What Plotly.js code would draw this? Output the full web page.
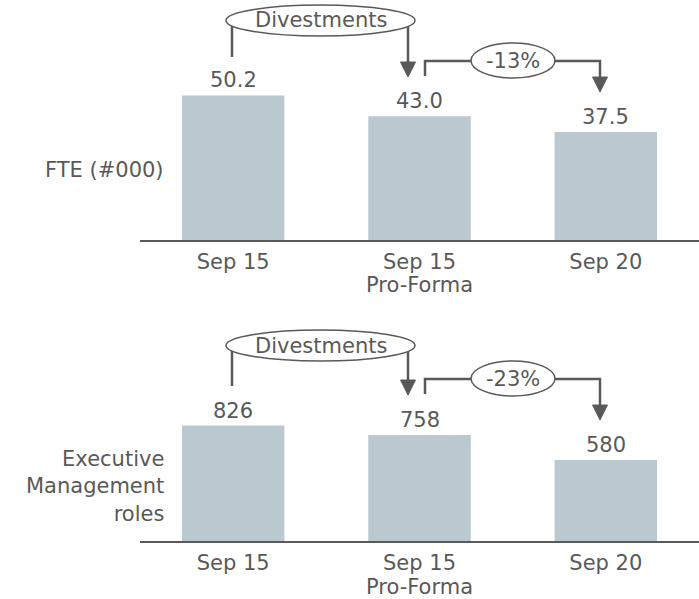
<!DOCTYPE html>
<html>
<head>
<meta charset="utf-8">
<script src="https://cdn.plot.ly/plotly-3.0.1.min.js"></script>
<style>html,body{margin:0;padding:0;background:#fff;}#chart{width:699px;height:599px;}</style>
</head>
<body>
<div id="chart"></div>
<script>
// ---- data ----
const categories = ['Sep 15', 'Sep 15 Pro-Forma', 'Sep 20'];
const tickLabels = ['Sep 15', 'Sep 15', 'Sep 20'];
const tickSubLabels = ['', 'Pro-Forma', ''];
const fteValues = [50.2, 43.0, 37.5];
const fteLabels = ['50.2', '43.0', '37.5'];
const execValues = [826, 758, 580];
const execLabels = ['826', '758', '580'];
const fteTitle = 'FTE (#000)';
const execTitle = 'Executive<br>Management<br>roles';
const divestLabel = 'Divestments';
const fteChange = '-13%';
const execChange = '-23%';

// ---- style ----
const W = 699, H = 599;
const TXT = '#595959';
const BAR = '#BAC9D0';
const FONT = 'DejaVu Sans, Verdana, sans-serif';
const FS = 21;

const px = x => x / W;
const py = y => 1 - y / H;

const traces = [
  {type: 'bar', x: categories, y: fteValues, xaxis: 'x', yaxis: 'y',
   marker: {color: BAR}, hoverinfo: 'skip'},
  {type: 'bar', x: categories, y: execValues, xaxis: 'x2', yaxis: 'y2',
   marker: {color: BAR}, hoverinfo: 'skip'}
];

const xBase = {
  type: 'category', range: [-0.5, 2.5], domain: [140 / W, 1],
  showline: true, linecolor: TXT, linewidth: 2, showgrid: false, zeroline: false,
  ticks: '', tickfont: {family: FONT, size: FS, color: TXT}, fixedrange: true,
  tickmode: 'array', tickvals: categories, ticktext: tickLabels,
  ticklabelstandoff: 2
};
const yBase = {showline: false, showgrid: false, zeroline: false, showticklabels: false, fixedrange: true};

const annotations = [];
const shapes = [];

function valueLabels(vals, labels, xr, yr) {
  vals.forEach((v, i) => {
    annotations.push({x: categories[i], y: v, xref: xr, yref: yr, text: labels[i],
      showarrow: false, yanchor: 'bottom', yshift: 1,
      font: {family: FONT, size: FS, color: TXT}});
  });
}
valueLabels(fteValues, fteLabels, 'x', 'y');
valueLabels(execValues, execLabels, 'x2', 'y2');

function subLabels(xr, yPix) {
  tickSubLabels.forEach((t, i) => {
    if (!t) return;
    annotations.push({x: categories[i], xref: xr, yref: 'paper', y: py(yPix), text: t,
      showarrow: false, yanchor: 'middle', font: {family: FONT, size: FS, color: TXT}});
  });
}
subLabels('x', 285);
subLabels('x2', 587);

annotations.push({xref: 'paper', yref: 'paper', x: px(166), y: py(170), xanchor: 'right', yanchor: 'middle',
  text: fteTitle, showarrow: false, align: 'right', font: {family: FONT, size: FS, color: TXT}});
annotations.push({xref: 'paper', yref: 'paper', x: px(166), y: py(486), xanchor: 'right', yanchor: 'middle',
  text: execTitle, showarrow: false, align: 'right', font: {family: FONT, size: FS, color: TXT}});

function line(pts, width) {
  const d = pts.map((p, i) => (i ? 'L' : 'M') + px(p[0]) + ',' + py(p[1])).join(' ');
  shapes.push({type: 'path', xref: 'paper', yref: 'paper', path: d,
    line: {color: TXT, width: width || 2.5}});
}
function arrowHead(x, y0, y1) {
  const d = 'M' + px(x - 7.5) + ',' + py(y0) + ' L' + px(x + 7.5) + ',' + py(y0) +
            ' L' + px(x) + ',' + py(y1) + ' Z';
  shapes.push({type: 'path', xref: 'paper', yref: 'paper', path: d,
    fillcolor: TXT, line: {color: TXT, width: 1}});
}
function ellipse(x0, y0, x1, y1, text) {
  shapes.push({type: 'circle', xref: 'paper', yref: 'paper', x0: px(x0), x1: px(x1), y0: py(y1), y1: py(y0),
    fillcolor: '#fff', line: {color: TXT, width: 1.5}});
  annotations.push({xref: 'paper', yref: 'paper', x: px((x0 + x1) / 2), y: py((y0 + y1) / 2),
    text: text, showarrow: false, xanchor: 'center', yanchor: 'middle',
    font: {family: FONT, size: FS, color: TXT}});
}

function panel(o) {
  line([[232, o.divY], [232, o.leftEnd]]);
  line([[408, o.divY], [408, o.divTip - 15]]);
  arrowHead(408, o.divTip - 15, o.divTip);
  ellipse(226, o.divY - 15, 415, o.divY + 16, divestLabel);
  line([[425, o.brStart], [425, o.brY], [600, o.brY], [600, o.chTip - 15]]);
  arrowHead(600, o.chTip - 15, o.chTip);
  ellipse(471, o.brY - 18, 555, o.brY + 17, o.change);
}
panel({divY: 20, leftEnd: 57, divTip: 77, brStart: 76, brY: 61, chTip: 92, change: fteChange});
panel({divY: 345, leftEnd: 386, divTip: 395, brStart: 394, brY: 379, chTip: 420, change: execChange});

const layout = {
  width: W, height: H, margin: {l: 0, r: 0, t: 0, b: 0},
  paper_bgcolor: '#fff', plot_bgcolor: '#fff', showlegend: false, bargap: 0.45,
  xaxis: Object.assign({}, xBase, {anchor: 'y'}),
  yaxis: Object.assign({}, yBase, {domain: [1 - 240 / H, 1], range: [0, 240 / 2.88]}),
  xaxis2: Object.assign({}, xBase, {anchor: 'y2'}),
  yaxis2: Object.assign({}, yBase, {domain: [1 - 541 / H, 1 - 300 / H], range: [0, 241 / 0.1398]}),
  annotations: annotations, shapes: shapes
};

Plotly.newPlot('chart', traces, layout, {staticPlot: true, displayModeBar: false});
</script>
</body>
</html>
